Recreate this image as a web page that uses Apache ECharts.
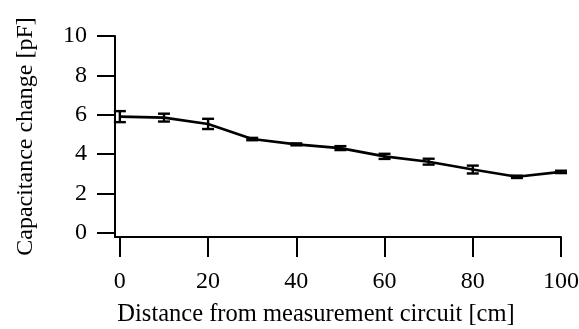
<!DOCTYPE html>
<html>
<head>
<meta charset="utf-8">
<script src="https://cdn.jsdelivr.net/npm/echarts@6/dist/echarts.min.js"></script>
<style>
  html, body { margin: 0; padding: 0; background: #fff; }
  #chart { width: 579px; height: 329px; }
</style>
</head>
<body>
<div id="chart"></div>
<script>
// distance [cm] and capacitance change [pF]
const distances = [0, 10, 20, 30, 40, 50, 60, 70, 80, 90, 100];
const capacitance = [5.9, 5.85, 5.53, 4.76, 4.49, 4.3, 3.88, 3.61, 3.21, 2.84, 3.09];
const errors = [0.28, 0.2, 0.26, 0.06, 0.05, 0.1, 0.13, 0.15, 0.2, 0.06, 0.06];
const xTicks = [0, 20, 40, 60, 80, 100];
const yTicks = [0, 2, 4, 6, 8, 10];

const font = '"Liberation Serif", "Times New Roman", serif';

const chart = echarts.init(document.getElementById('chart'));

const lineData = distances.map((d, i) => [d, capacitance[i]]);
const errData = distances.map((d, i) => [d, capacitance[i] - errors[i], capacitance[i] + errors[i]]);

const option = {
  animation: false,
  // fixed plot box, don't let v6 shrink it to fit the labels
  grid: { left: 115, top: 36, width: 446, height: 201, outerBoundsMode: 'none' },
  xAxis: {
    type: 'value',
    min: -1.1,
    max: 100,
    name: 'Distance from measurement circuit [cm]',
    nameLocation: 'middle',
    nameGap: 65,
    // name sits a bit left of the plot centre in the original
    nameTextStyle: { fontFamily: font, fontSize: 24.5, color: '#000', padding: [0, 44, 0, 0] },
    axisLine: { show: true, onZero: false, lineStyle: { color: '#000', width: 2 } },
    axisTick: { show: true, length: 20, customValues: xTicks, lineStyle: { color: '#000', width: 2 } },
    axisLabel: { customValues: xTicks, margin: 33, fontFamily: font, fontSize: 24, color: '#000' },
    splitLine: { show: false }
  },
  yAxis: {
    type: 'value',
    min: -0.22,
    max: 10,
    name: 'Capacitance change [pF]',
    nameLocation: 'middle',
    nameGap: 77,
    nameTextStyle: { fontFamily: font, fontSize: 24, color: '#000' },
    axisLine: { show: true, onZero: false, lineStyle: { color: '#000', width: 2 } },
    axisTick: { show: true, length: 18, customValues: yTicks, lineStyle: { color: '#000', width: 2 } },
    axisLabel: { customValues: yTicks, margin: 28, fontFamily: font, fontSize: 24, color: '#000' },
    splitLine: { show: false }
  },
  series: [
    {
      type: 'line',
      data: lineData,
      showSymbol: false,
      lineStyle: { color: '#000', width: 2.6 },
      z: 3
    },
    {
      type: 'custom',
      data: errData,
      z: 4,
      renderItem: function (params, api) {
        const x = api.value(0);
        const lo = api.coord([x, api.value(1)]);
        const hi = api.coord([x, api.value(2)]);
        const hw = 6;
        const style = { stroke: '#000', lineWidth: 2.4 };
        return {
          type: 'group',
          children: [
            { type: 'line', shape: { x1: lo[0], y1: lo[1], x2: hi[0], y2: hi[1] }, style: style },
            { type: 'line', shape: { x1: lo[0] - hw, y1: lo[1], x2: lo[0] + hw, y2: lo[1] }, style: style },
            { type: 'line', shape: { x1: hi[0] - hw, y1: hi[1], x2: hi[0] + hw, y2: hi[1] }, style: style }
          ]
        };
      }
    }
  ]
};

chart.setOption(option);
</script>
</body>
</html>
